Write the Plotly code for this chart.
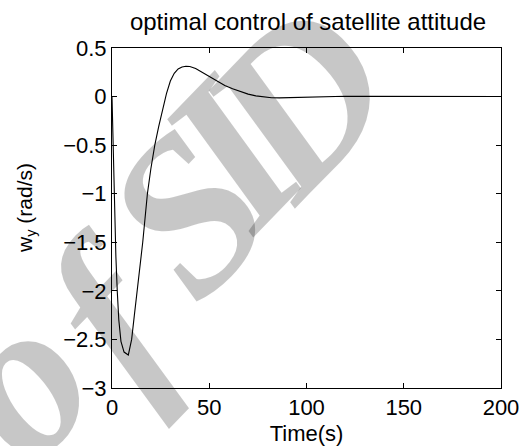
import plotly.graph_objects as go

# time (s) and angular velocity w_y (rad/s)
t = [0, 0.5, 1.0, 1.5, 2.0, 2.7, 3.5, 4.6, 6.2, 8.4, 10.1, 11.5, 13.0, 14.4, 15.8,
     17.0, 18.2, 20.0, 22.0, 24.0, 26.0, 28.0, 30.0, 32.0, 34.0, 36.0, 38.0, 40.0,
     43.0, 46.0, 50.0, 54.0, 58.0, 62.0, 66.0, 70.0, 74.0, 78.0, 82.0, 86.0, 90.0,
     95.0, 100.0, 105.0, 110.0, 120.0, 130.0, 140.0, 160.0, 180.0, 200.0]
wy = [0, -0.5, -0.95, -1.35, -1.65, -2.0, -2.3, -2.52, -2.63, -2.66, -2.5, -2.25, -2.0, -1.75, -1.5,
      -1.25, -1.0, -0.74, -0.5, -0.31, -0.14, 0.03, 0.16, 0.24, 0.285, 0.305, 0.312, 0.31,
      0.29, 0.255, 0.2, 0.155, 0.115, 0.08, 0.05, 0.025, 0.007, -0.005, -0.012, -0.013, -0.011,
      -0.007, -0.003, 0.0, 0.002, 0.003, 0.002, 0.001, 0.0, 0.0, 0.0]

x_ticks = [0, 50, 100, 150, 200]
y_ticks = [0.5, 0, -0.5, -1, -1.5, -2, -2.5, -3]

title_text = "optimal control of satellite attitude"
x_title = "Time(s)"
y_title = "w<sub>y</sub> (rad/s)"
# watermark letters of "of SID" and their centres in picture pixels
wm_letters = ["o", "f", "S", "I", "D"]
wm_px = [(16, 380), (114, 312), (187, 213), (232, 153), (297, 100)]

FONT = "Liberation Sans, Arial, Helvetica, sans-serif"
W, H = 527, 446
L, R, T, B = 112, 26, 48, 58
pw, ph = W - L - R, H - T - B

fig = go.Figure()
fig.add_trace(go.Scatter(x=t, y=wy, mode="lines",
                         line=dict(color="black", width=1.1),
                         showlegend=False, hoverinfo="skip"))

fig.update_layout(
    width=W, height=H,
    margin=dict(l=L, r=R, t=T, b=B, autoexpand=False),
    paper_bgcolor="white", plot_bgcolor="white",
    font=dict(family=FONT, size=22, color="black"),
    title=dict(text=title_text, x=308 / W, xanchor="center",
               y=1 - 22 / H, yanchor="middle", yref="container",
               font=dict(size=24, color="black", family=FONT)),
    showlegend=False,
)
fig.update_xaxes(
    range=[0, 200], tickvals=x_ticks, ticktext=[str(v) for v in x_ticks],
    ticks="inside", ticklen=5, tickcolor="black", tickwidth=1,
    showline=True, linecolor="black", linewidth=1, mirror="ticks",
    showgrid=False, zeroline=False, automargin=False,
    tickfont=dict(size=22, family=FONT),
    title=dict(text=x_title, font=dict(size=22, family=FONT), standoff=8),
)
fig.update_yaxes(
    range=[-3, 0.5], tickvals=y_ticks,
    ticktext=[("\u2212" + str(abs(v))) if v < 0 else str(v) for v in y_ticks],
    ticks="inside", ticklen=5, tickcolor="black", tickwidth=1,
    showline=True, linecolor="black", linewidth=1, mirror="ticks",
    showgrid=False, zeroline=False, automargin=False,
    tickfont=dict(size=22, family=FONT),
)

# y-axis title placed as a rotated annotation
fig.add_annotation(
    text=y_title, xref="paper", yref="paper",
    x=(26 - L) / pw, y=(H - B - 208) / ph,
    xanchor="center", yanchor="middle", showarrow=False, textangle=-90,
    font=dict(size=21, family=FONT, color="black"),
)

for ch, (px, py) in zip(wm_letters, wm_px):
    fig.add_annotation(
        text="<b><i>" + ch + "</i></b>",
        xref="paper", yref="paper", x=(px - L) / pw, y=(H - B - py) / ph,
        xanchor="center", yanchor="middle", showarrow=False, textangle=-46,
        font=dict(family="Liberation Serif, Times New Roman, serif", size=220,
                  color="rgba(0,0,0,0.22)"),
    )

fig.write_html("out.html")
